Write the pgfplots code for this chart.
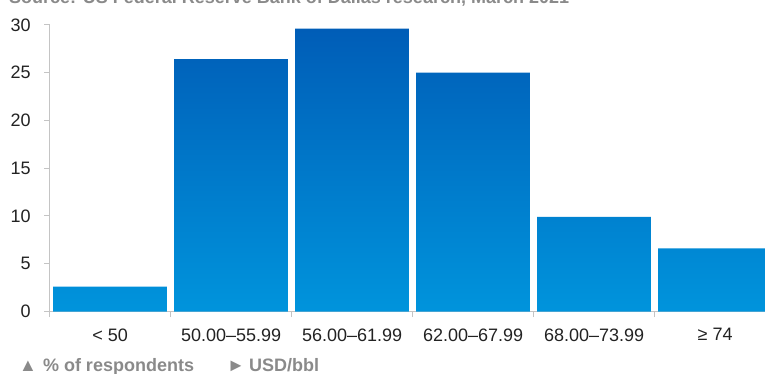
\documentclass[border=0pt]{standalone}
\usepackage{pgfplots}
\pgfplotsset{compat=1.18}
\usepackage{fontspec}
\setmainfont{Liberation Sans}
\definecolor{bartop}{HTML}{005DB7}
\definecolor{barbot}{HTML}{0094DC}
\definecolor{axgray}{HTML}{C4C4C4}
\definecolor{txt}{HTML}{222222}
\definecolor{leg}{HTML}{8A8A8A}
\begin{document}
\begin{tikzpicture}[x=1pt,y=1pt]
\begin{axis}[
  name=main,
  at={(41,-326)}, anchor=south west, scale only axis,
  width=726pt, height=286.7pt,
  xmin=-0.5, xmax=5.5, ymin=0, ymax=30,
  axis lines=left,
  axis line style={-, draw=axgray, line width=1.2pt},
  ytick={0,5,...,30},
  xtick={-0.5,0.5,1.5,2.5,3.5,4.5,5.5},
  x tick label as interval=true,
  xticklabels={{< 50},{50.00–55.99},{56.00–61.99},{62.00–67.99},{68.00–73.99},{≥ 74},{}},
  tick align=outside,
  major tick length=5.5pt,
  tick style={draw=axgray, line width=1pt},
  ticklabel style={font=\fontsize{18}{20}\selectfont, text=txt},
  yticklabel style={xshift=-10pt},
  xticklabel style={yshift=-8pt},
  /pgf/number format/assume math mode=true,
  clip=true,
]
\addplot[ybar, bar width=0.94, draw=none, top color=bartop, bottom color=barbot]
  coordinates {(0,2.6) (1,26.4) (2,29.6) (3,25.0) (4,9.9) (5,6.6)};
\end{axis}
\node[anchor=base west, inner sep=0, font=\bfseries\fontsize{18}{20}\selectfont, text=leg] at (19,-371.5) {▲\hspace{6pt}\% of respondents};
\node[anchor=base west, inner sep=0, font=\bfseries\fontsize{18}{20}\selectfont, text=leg] at (227,-371.5) {►\hspace{4pt}USD/bbl};
\node[anchor=base west, inner sep=0, font=\bfseries\fontsize{18}{20}\selectfont, text=leg] at (9,-4) {Source: US Federal Reserve Bank of Dallas research, March 2021};
\pgfresetboundingbox
\path[use as bounding box] (0,0) rectangle (765,-374);
\end{tikzpicture}
\end{document}
